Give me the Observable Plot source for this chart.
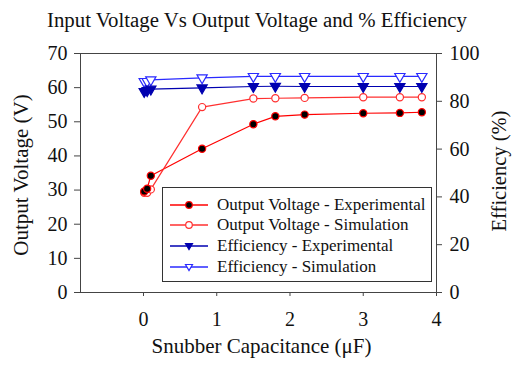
<!DOCTYPE html>
<html>
<head>
<meta charset="utf-8">
<script src="https://cdn.jsdelivr.net/npm/d3@7"></script>
<script src="https://cdn.jsdelivr.net/npm/@observablehq/plot@0.6"></script>
<style>
  body { margin: 0; background: #fff; }
  #wrap { position: relative; width: 512px; height: 365px; font-family: "Liberation Serif", "Times New Roman", serif; }
  #title { position: absolute; left: 0; top: 8px; width: 514px; text-align: center; font-size: 20.8px; line-height: 24px; color: #111; white-space: nowrap; }
  #legend { position: absolute; left: 162px; top: 187px; width: 270px; height: 95px; border: 1px solid #333; background: #fff; box-sizing: border-box; }
  .row { position: absolute; left: 0; height: 20px; display: flex; align-items: center; font-size: 17px; color: #111; white-space: nowrap; }
  .row svg { margin-left: 7px; margin-right: 9px; }
  svg { overflow: visible; }
</style>
</head>
<body>
<div id="wrap">
  <div id="title">Input Voltage Vs Output Voltage and % Efficiency</div>
  <div id="chart"></div>
  <div id="legend"></div>
</div>
<script>
// Data
const capacitance = [0.01, 0.05, 0.1, 0.8, 1.5, 1.8, 2.2, 3.0, 3.5, 3.8];
const voltageExperimental = [29.6, 30.4, 34.2, 42.1, 49.3, 51.6, 52.1, 52.5, 52.6, 52.8];
const voltageSimulation   = [29.2, 29.2, 30.2, 54.3, 56.8, 56.9, 57.0, 57.2, 57.2, 57.2];
const efficiencyExperimental = [84.1, 84.5, 85.1, 85.6, 86.2, 86.3, 86.2, 86.2, 86.2, 86.2];
const efficiencySimulation   = [88.3, 88.3, 89.0, 89.8, 90.4, 90.4, 90.4, 90.4, 90.4, 90.4];
const xTicks = [0, 1, 2, 3, 4];
const leftTicks = [0, 10, 20, 30, 40, 50, 60, 70];
const rightTicks = [0, 20, 40, 60, 80, 100];
const seriesNames = [
  "Output Voltage - Experimental",
  "Output Voltage - Simulation",
  "Efficiency - Experimental",
  "Efficiency - Simulation"
];

// Efficiency (0-100) shares the 0-70 voltage scale
const k = 70 / 100;
const vExp = capacitance.map((c, i) => ({x: c, y: voltageExperimental[i]}));
const vSim = capacitance.map((c, i) => ({x: c, y: voltageSimulation[i]}));
const eExp = capacitance.map((c, i) => ({x: c, y: efficiencyExperimental[i] * k}));
const eSim = capacitance.map((c, i) => ({x: c, y: efficiencySimulation[i] * k}));

const red = "#ff0000", redSim = "#ff3030", navy = "#0000b0", blue = "#2a2aff";
const styles = [
  {stroke: red, fill: "#000", symbol: "circle"},
  {stroke: redSim, fill: "#fff", symbol: "circle"},
  {stroke: navy, fill: navy, symbol: "triangle"},
  {stroke: blue, fill: "#fff", symbol: "triangle"}
];

const font = "Liberation Serif, Times New Roman, serif";
const chart = Plot.plot({
  width: 512,
  height: 365,
  marginLeft: 80,
  marginRight: 76,
  marginTop: 53,
  marginBottom: 73,
  style: {fontFamily: font, fontSize: "20px", color: "#111", background: "#fff"},
  x: {domain: [-0.86, 4]},
  y: {domain: [0, 70]},
  marks: [
    Plot.frame({stroke: "#444"}),
    Plot.axisX({ticks: xTicks, tickSize: 4, tickPadding: 15, tickFormat: d => d, label: null, stroke: "#444"}),
    Plot.axisY({anchor: "left", ticks: leftTicks, tickSize: 6, tickPadding: 7, tickFormat: d => d, label: null, stroke: "#444"}),
    Plot.axisY({anchor: "right", ticks: rightTicks.map(t => t * k), tickSize: 5, tickPadding: 8, tickFormat: d => Math.round(d / k), label: null, textAnchor: "start", stroke: "#444"}),
    Plot.line(vExp, {x: "x", y: "y", stroke: styles[0].stroke, strokeWidth: 1.2}),
    Plot.line(vSim, {x: "x", y: "y", stroke: styles[1].stroke, strokeWidth: 1.2}),
    Plot.line(eExp, {x: "x", y: "y", stroke: styles[2].stroke, strokeWidth: 1.2}),
    Plot.line(eSim, {x: "x", y: "y", stroke: styles[3].stroke, strokeWidth: 1.2}),
    Plot.dot(vSim, {x: "x", y: "y", r: 3.6, stroke: styles[1].stroke, fill: styles[1].fill, strokeWidth: 1.2}),
    Plot.dot(vExp, {x: "x", y: "y", r: 3.6, stroke: styles[0].stroke, fill: styles[0].fill, strokeWidth: 1.2}),
    Plot.dot(eSim, {x: "x", y: "y", r: 3.8, symbol: "triangle", rotate: 180, stroke: styles[3].stroke, fill: styles[3].fill, strokeWidth: 1.2}),
    Plot.dot(eExp, {x: "x", y: "y", r: 3.8, symbol: "triangle", rotate: 180, stroke: styles[2].stroke, fill: styles[2].fill, strokeWidth: 1.2}),
    Plot.text(["Output Voltage (V)"], {frameAnchor: "left", textAnchor: "middle", dx: -59, dy: 2, rotate: -90, fontSize: 21, fill: "#111"}),
    Plot.text(["Efficiency (%)"], {frameAnchor: "right", textAnchor: "middle", dx: 63, dy: -2, rotate: -90, fontSize: 20.5, fill: "#111"}),
    Plot.text(["Snubber Capacitance (\u03bcF)"], {frameAnchor: "bottom", textAnchor: "middle", dy: 60, dx: 3, fontSize: 21, fill: "#111"})
  ]
});
document.getElementById("chart").appendChild(chart);

// Legend
const legend = document.getElementById("legend");
const rowTops = [7, 27, 48, 69];
seriesNames.forEach((name, i) => {
  const s = styles[i];
  const row = document.createElement("div");
  row.className = "row";
  row.style.top = rowTops[i] + "px";
  const sym = s.symbol === "circle"
    ? `<circle cx="19" cy="10" r="3.3" stroke="${s.stroke}" fill="${s.fill}" stroke-width="1.2"/>`
    : `<path d="M15.5,7.5 L22.5,7.5 L19,13.5 Z" stroke="${s.stroke}" fill="${s.fill}" stroke-width="1.2"/>`;
  row.innerHTML = `<svg width="38" height="20"><line x1="0" x2="38" y1="10" y2="10" stroke="${s.stroke}" stroke-width="1.4"/>${sym}</svg><span>${name}</span>`;
  legend.appendChild(row);
});
</script>
</body>
</html>
